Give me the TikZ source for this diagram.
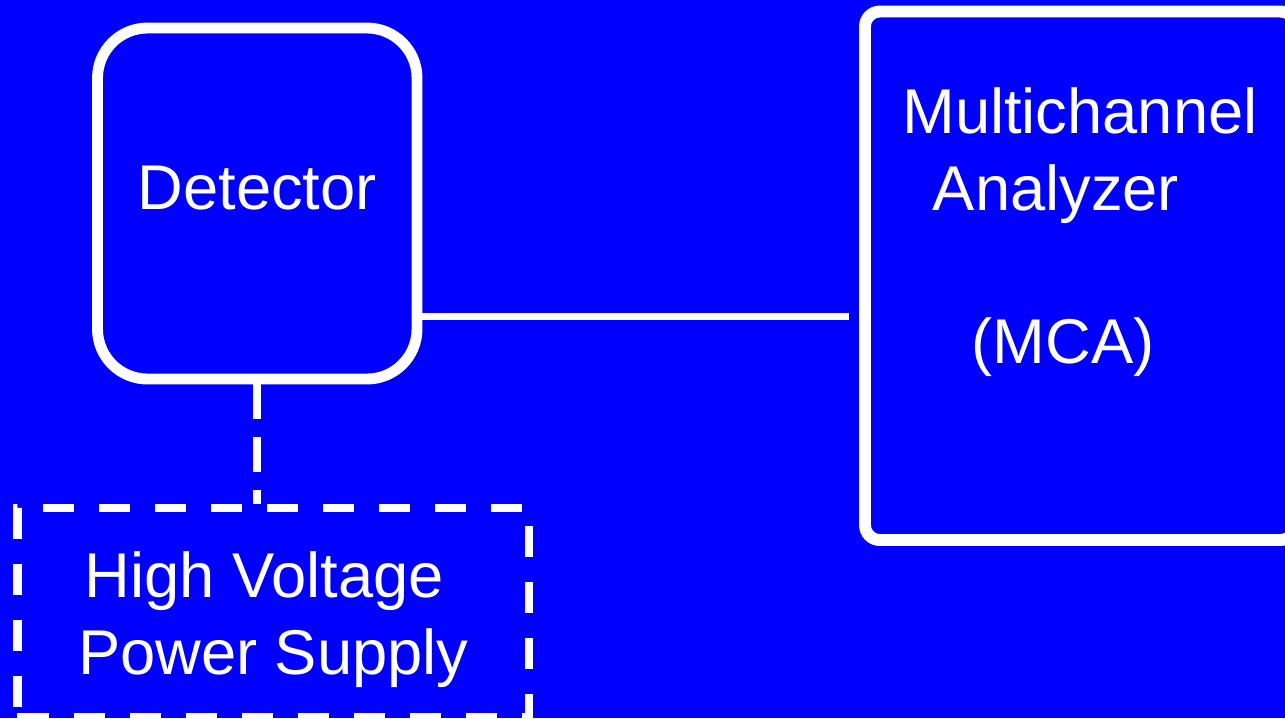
\documentclass[tikz,border=0pt]{standalone}
\usepackage{fontspec}
\setmainfont{Liberation Sans}
\usepackage{xcolor}
\usepackage{tikz}
\usetikzlibrary{positioning}

\definecolor{bgblue}{RGB}{0,0,255}

\begin{document}
\begin{tikzpicture}[
    unit/.style={text=white, align=center, font=\fontsize{18}{21.9}\selectfont},
    box/.style={unit, draw=white},
    detbox/.style={box, line width=3.1pt, rounded corners=0.5cm, minimum width=3.195cm, minimum height=3.51cm, text depth=0.31cm},
    mcabox/.style={box, line width=3.4pt, rounded corners=0.15cm, minimum width=4.3cm, minimum height=5.285cm},
    hvbox/.style={box, line width=2.3pt, dash pattern=on 3.1mm off 2.5mm, minimum width=5.115cm, minimum height=2.09cm},
    boxtext/.style={unit, inner sep=0pt},
    wire/.style={white, line width=2pt},
    hvwire/.style={white, line width=2.3pt, dash pattern=on 3.5mm off 1.8mm}
]

% Background
\useasboundingbox (0,0) rectangle (12.85,-7.18);
\clip (0,0) rectangle (12.85,-7.18);
\fill[bgblue] (0,0) rectangle (12.85,-7.18);

% Units
\node[detbox] (det) at (2.5725,-2.035) {Detector};
\node[mcabox] (mca) at (10.8,-2.7575) {};
\node[boxtext, below=0.81cm of mca.north] (mcatext) {Multichannel\\\mbox{Analyzer\hspace{0.48cm}}\\[21.9pt]\mbox{(MCA)\hspace{0.34cm}}};
\node[hvbox] (hv) at (2.7325,-6.125) {\rule{0pt}{0.6cm}\mbox{High Voltage\hspace{0.18cm}}\\Power Supply};

% Signal cable
\coordinate (tap) at ([yshift=-1.125cm]det.east);
\draw[wire, shorten >=0.1cm] (tap) -- (tap -| mca.west);

% High voltage cable
\draw[hvwire] (det.south) -- (det.south |- hv.north);

\end{tikzpicture}
\end{document}
